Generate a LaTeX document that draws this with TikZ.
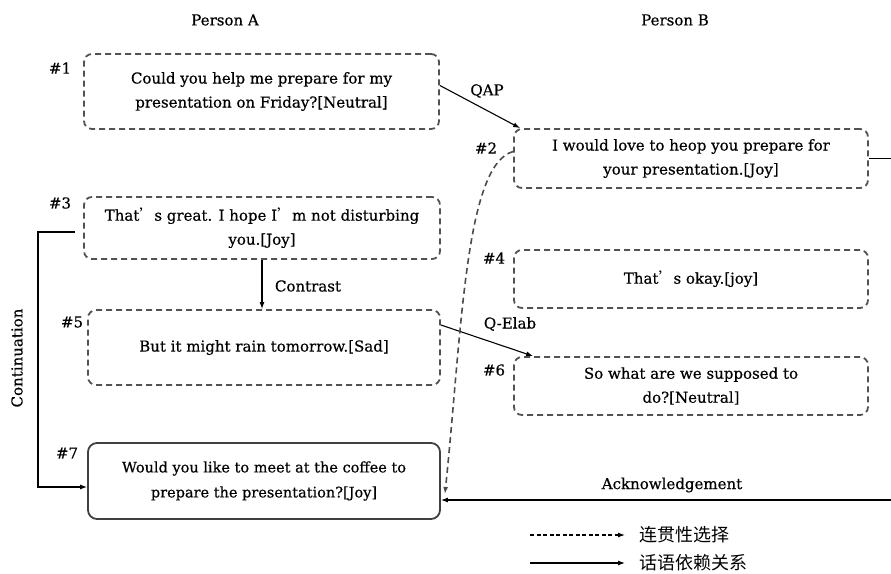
\documentclass[tikz,border=0pt]{standalone}
\usepackage{fontspec}
\setmainfont{DejaVu Serif}[UprightFeatures={FakeBold=0.5}]
\newfontfamily\cjk{Noto Sans CJK SC}
\usetikzlibrary{arrows.meta,calc}
\tikzset{
  utt/.style={draw=black!68, line width=1.8pt, dash pattern=on 6pt off 4pt, rounded corners=8pt, align=center, inner sep=0pt, font=\fontsize{15}{24}\selectfont},
  uttfinal/.style={draw=black!75, line width=1.8pt, rounded corners=9pt, align=center, inner sep=0pt, font=\fontsize{14.5}{25}\selectfont},
  idx/.style={font=\fontsize{15}{17}\selectfont},
  lbl/.style={font=\fontsize{15}{17}\selectfont},
  rel/.style={-{Latex[length=7pt,width=5pt]}, line width=1.1pt, black},
  coh/.style={-{Latex[length=7pt,width=5pt]}, line width=1.6pt, black!70, dash pattern=on 6pt off 4pt},
}
\newcommand{\apo}{{\cjk ’}}
\begin{document}
\begin{tikzpicture}[x=1pt,y=-1pt]
\useasboundingbox (0,0) rectangle (891,573);
% headers
\node[lbl] (hA) at (225,20) {Person A};
\node[lbl] (hB) at (675,20) {Person B};
% utterances
\node[utt, minimum width=355pt, minimum height=75pt] (n1) at (261.5,91.5) {Could you help me prepare for my\\presentation on Friday?[Neutral]};
\node[utt, minimum width=354pt, minimum height=59pt] (n2) at (691,158.5) {I would love to heop you prepare for\\your presentation.[Joy]};
\node[utt, minimum width=356pt, minimum height=62pt] (n3) at (262,228) {That\apo s great. I hope I\apo m not disturbing\\you.[Joy]};
\node[utt, minimum width=354pt, minimum height=58pt] (n4) at (691,279) {That\apo s okay.[joy]};
\node[utt, minimum width=352pt, minimum height=75pt] (n5) at (264,347.5) {But it might rain tomorrow.[Sad]};
\node[utt, minimum width=354pt, minimum height=58pt] (n6) at (691,386) {So what are we supposed to\\do?[Neutral]};
\node[uttfinal, minimum width=352pt, minimum height=76pt] (n7) at (264,481) {Would you like to meet at the coffee to\\prepare the presentation?[Joy]};
% indices
\node[idx] (i1) at (60,68) {\#1};
\node[idx] (i2) at (486,148) {\#2};
\node[idx] (i3) at (60,203) {\#3};
\node[idx] (i4) at (494,258) {\#4};
\node[idx] (i5) at (72,322) {\#5};
\node[idx] (i6) at (494,370) {\#6};
\node[idx] (i7) at (67,453) {\#7};
% relations
\draw[rel] ([yshift=6pt]n1.east) -- ([xshift=7pt]n2.north west);
\node[lbl] (lqap) at (487,91) {QAP};
\draw[rel] (n3.south) -- (n3.south |- n5.north);
\node[lbl] (lcon) at (308,286) {Contrast};
\draw[rel] ([yshift=22.5pt]n5.east) -- ([xshift=20pt]n6.north west);
\node[lbl] (lqe) at (510,324) {Q-Elab};
\coordinate (cx) at (38,0);
\draw[rel] ([xshift=-8pt,yshift=-4pt]n3.west) -| (cx |- 0,487) -- ([yshift=-6pt]n7.west);
\node[lbl, rotate=90] (lcont) at (17,358) {Continuation};
\coordinate (rB) at (891,158.5);
\draw[line width=1.1pt] (n2.east) -- (rB);
\coordinate (ackR) at (891,500);
\draw[rel] (ackR) -- (n7.east |- ackR);
\node[lbl] (lack) at (672,485) {Acknowledgement};
% coherence choice
\draw[coh] ([yshift=7pt]n2.west) .. controls (465,165) and (462,330) .. ([xshift=4pt,yshift=-13pt]n7.east);
% legend
\coordinate (l1a) at (530,535);
\coordinate (l1b) at (625,535);
\coordinate (l2a) at (530,563);
\coordinate (l2b) at (625,563);
\draw[coh, black, line width=1.2pt, dash pattern=on 4pt off 2.5pt] (l1a) -- (l1b);
\draw[rel] (l2a) -- (l2b);
\node[anchor=west, font=\cjk\fontsize{18}{20}\selectfont] (t1) at (636,535) {连贯性选择};
\node[anchor=west, font=\cjk\fontsize{18}{20}\selectfont] (t2) at (636,563) {话语依赖关系};
\end{tikzpicture}
\end{document}
